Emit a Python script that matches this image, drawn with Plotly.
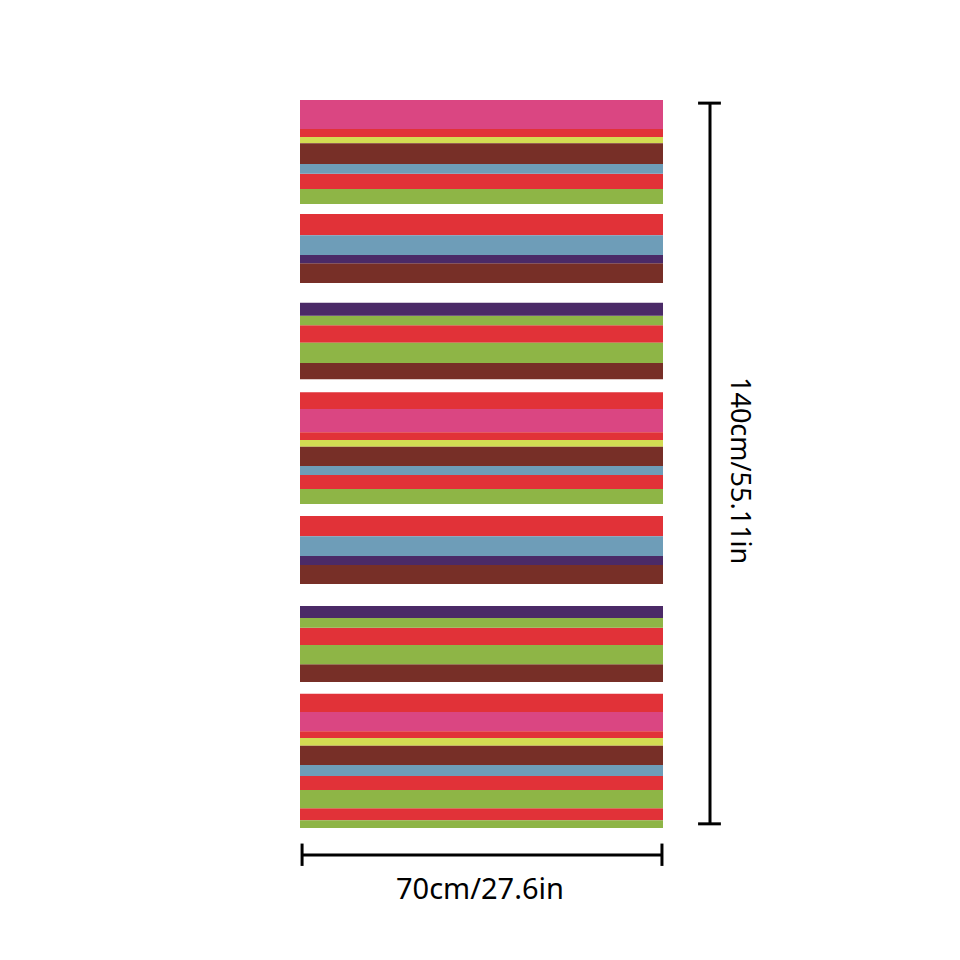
import plotly.graph_objects as go

# Wallpaper panel size (cm)
panel_width_cm = 70
panel_height_cm = 140

# Stripes: top edge, bottom edge (cm from top of panel), colour name
stripe_top = [
    0.0, 5.6, 7.1, 8.3, 12.3, 14.2, 17.1,
    21.9, 26.0, 29.8, 31.4,
    39.0, 41.5, 43.3, 46.7, 50.6,
    56.2, 59.4, 63.9, 65.4, 66.7, 70.4, 72.1, 74.8,
    80.0, 83.9, 87.7, 89.4,
    97.3, 99.6, 101.5, 104.8, 108.5,
    114.2, 117.7, 121.4, 122.7, 124.2, 127.9, 130.0, 132.7, 136.2, 138.5,
]
stripe_bottom = [
    5.6, 7.1, 8.3, 12.3, 14.2, 17.1, 20.0,
    26.0, 29.8, 31.4, 35.2,
    41.5, 43.3, 46.7, 50.6, 53.7,
    59.4, 63.9, 65.4, 66.7, 70.4, 72.1, 74.8, 77.7,
    83.9, 87.7, 89.4, 93.1,
    99.6, 101.5, 104.8, 108.5, 111.9,
    117.7, 121.4, 122.7, 124.2, 127.9, 130.0, 132.7, 136.2, 138.5, 140.0,
]
stripe_color = [
    "pink", "red", "yellow", "brown", "blue", "red", "green",
    "red", "blue", "purple", "brown",
    "purple", "green", "red", "green", "brown",
    "red", "pink", "red", "yellow", "brown", "blue", "red", "green",
    "red", "blue", "purple", "brown",
    "purple", "green", "red", "green", "brown",
    "red", "pink", "red", "yellow", "brown", "blue", "red", "green", "red", "green",
]

width_label = "70cm/27.6in"
height_label = "140cm/55.11in"

palette = {
    "pink": "#DA4682",
    "red": "#E13238",
    "yellow": "#D3DC52",
    "brown": "#772F27",
    "blue": "#6E9DB8",
    "green": "#8EB546",
    "purple": "#4B2A67",
}

fig = go.Figure()
for name, col in palette.items():
    idx = [i for i, c in enumerate(stripe_color) if c == name]
    fig.add_trace(go.Bar(
        orientation="h",
        y=[(stripe_top[i] + stripe_bottom[i]) / 2 for i in idx],
        x=[panel_width_cm] * len(idx),
        base=[0] * len(idx),
        width=[stripe_bottom[i] - stripe_top[i] for i in idx],
        marker=dict(color=col, line=dict(width=0)),
        hoverinfo="skip",
        name=name,
    ))

# pixel scale: ~5.186 px/cm horizontally, 5.2 px/cm vertically
sx = 363 / panel_width_cm
sy = 728 / panel_height_cm
page_offset = 8  # browser body margin
x0_px, y0_px = 300 - page_offset, 100 - page_offset

line_style = dict(color="black", width=3)
shapes = []
# horizontal dimension line
hy = (855 - 100) / sy
hx0, hx1 = 0.4, panel_width_cm - 0.2
shapes.append(dict(type="line", x0=hx0, x1=hx1, y0=hy, y1=hy, line=line_style))
for xx in (hx0, hx1):
    shapes.append(dict(type="line", x0=xx, x1=xx, y0=hy - 2.2, y1=hy + 2.1, line=line_style))
# vertical dimension line
vx = (710 - 300) / sx
vy0, vy1 = 0.6, panel_height_cm - 0.8
shapes.append(dict(type="line", x0=vx, x1=vx, y0=vy0, y1=vy1, line=line_style))
for yy in (vy0, vy1):
    shapes.append(dict(type="line", x0=vx - 2.3, x1=vx + 2.1, y0=yy, y1=yy, line=line_style))

font = dict(family="Noto Sans", size=29, color="black")
annotations = [
    dict(text=width_label, x=panel_width_cm / 2 - 0.2, y=(887 - 100) / sy,
         showarrow=False, xanchor="center", yanchor="middle", font=font),
    dict(text=height_label, x=(742 - 300) / sx, y=(470 - 100) / sy,
         showarrow=False, xanchor="center", yanchor="middle", textangle=90,
         font=dict(family="Noto Sans", size=27, color="black")),
]

fig.update_layout(
    width=960, height=960,
    margin=dict(l=0, r=0, t=0, b=0),
    paper_bgcolor="white", plot_bgcolor="white",
    showlegend=False, barmode="overlay",
    xaxis=dict(range=[-x0_px / sx, (960 - x0_px) / sx], visible=False, fixedrange=True),
    yaxis=dict(range=[(960 - y0_px) / sy, -y0_px / sy], visible=False, fixedrange=True),
    shapes=shapes, annotations=annotations,
)

fig.write_html("out.html")
